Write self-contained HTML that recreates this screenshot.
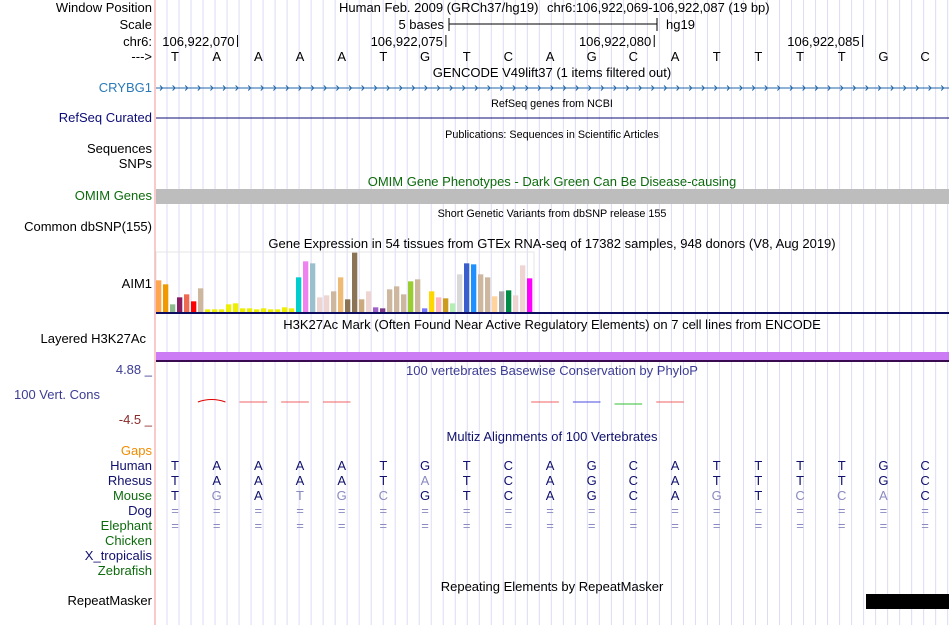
<!DOCTYPE html>
<html><head><meta charset="utf-8"><style>
html,body{margin:0;padding:0;background:#fff}
svg{display:block;font-family:"Liberation Sans",sans-serif}
</style></head><body>
<svg id="s" width="950" height="625" viewBox="0 0 950 625" xmlns="http://www.w3.org/2000/svg">
<g id="grid"></g>
<line x1="155" y1="0" x2="155" y2="625" stroke="#f4a6a6" stroke-width="1.2"/>
<g font-size="13" text-anchor="end">
<text x="152" y="12">Window Position</text>
<text x="152" y="29">Scale</text>
<text x="152" y="46">chr6:</text>
<text x="152" y="61">---&gt;</text>
<text x="152" y="92" fill="#2a7ab8">CRYBG1</text>
<text x="152" y="122" fill="#0c0c78">RefSeq Curated</text>
<text x="152" y="153">Sequences</text>
<text x="152" y="168">SNPs</text>
<text x="152" y="200" fill="#0d6b0d">OMIM Genes</text>
<text x="152" y="231">Common dbSNP(155)</text>
<text x="152" y="288">AIM1</text>
<text x="146" y="343">Layered H3K27Ac</text>
<text x="152" y="374" fill="#3c3c94">4.88 _</text>
<text x="100" y="399" fill="#3c3c94">100 Vert. Cons</text>
<text x="152" y="424" fill="#8b2a2a">-4.5 _</text>
<text x="152" y="455" fill="#f08c00">Gaps</text>
<text x="152" y="470" fill="#10106e">Human</text>
<text x="152" y="485" fill="#10106e">Rhesus</text>
<text x="152" y="500" fill="#0d6b0d">Mouse</text>
<text x="152" y="515" fill="#10106e">Dog</text>
<text x="152" y="530" fill="#0d6b0d">Elephant</text>
<text x="152" y="545" fill="#0d6b0d">Chicken</text>
<text x="152" y="560" fill="#10106e">X_tropicalis</text>
<text x="152" y="575" fill="#0d6b0d">Zebrafish</text>
<text x="152" y="605">RepeatMasker</text>
</g>
<g font-size="13">
<text x="339" y="12">Human Feb. 2009 (GRCh37/hg19)</text>
<text x="547" y="12">chr6:106,922,069-106,922,087 (19 bp)</text>
<text x="444" y="29" text-anchor="end">5 bases</text>
<line x1="449" y1="24" x2="657" y2="24" stroke="#000"/>
<line x1="449" y1="18" x2="449" y2="31" stroke="#000"/>
<line x1="657" y1="18" x2="657" y2="31" stroke="#000"/>
<text x="666" y="29">hg19</text>
<g id="ticks"></g>
<g id="bases"></g>
</g>
<g text-anchor="middle" font-size="13">
<text x="552" y="77">GENCODE V49lift37 (1 items filtered out)</text>
<text x="552" y="107" font-size="10.8">RefSeq genes from NCBI</text>
<text x="552" y="138" font-size="10.8">Publications: Sequences in Scientific Articles</text>
<text x="552" y="186" fill="#0d6b0d">OMIM Gene Phenotypes - Dark Green Can Be Disease-causing</text>
<text x="552" y="217" font-size="10.8">Short Genetic Variants from dbSNP release 155</text>
<text x="552" y="248">Gene Expression in 54 tissues from GTEx RNA-seq of 17382 samples, 948 donors (V8, Aug 2019)</text>
<text x="552" y="329">H3K27Ac Mark (Often Found Near Active Regulatory Elements) on 7 cell lines from ENCODE</text>
<text x="552" y="375" fill="#3c3c94">100 vertebrates Basewise Conservation by PhyloP</text>
<text x="552" y="441" fill="#10106e">Multiz Alignments of 100 Vertebrates</text>
<text x="552" y="591">Repeating Elements by RepeatMasker</text>
</g>
<line x1="156" y1="88" x2="949" y2="88" stroke="#2065a8"/>
<g id="chev" stroke="#2065a8" fill="none"></g>
<line x1="156" y1="118" x2="949" y2="118" stroke="#0c0c78"/>
<rect x="156" y="189" width="793" height="15" fill="#bdbdbd"/>
<rect x="156" y="252" width="378" height="61" fill="none" stroke="#e4e4e4"/>
<g id="bars"></g>
<rect x="156" y="312" width="793" height="2" fill="#0c0c60"/>
<rect x="156" y="352" width="793" height="8" fill="#cc7cf4"/>
<rect x="156" y="360" width="793" height="2" fill="#3a0a50"/>
<g id="cons" fill="none" stroke-width="1"></g>
<g id="aln" font-size="13" text-anchor="middle"></g>
<rect x="866" y="594" width="83" height="15" fill="#000"/>
</svg>
<script>
const gtexValues=[95,83,23,44,53,32,71,8,8,8,23,26,11,11,8,11,8,8,14,11,104,152,146,44,50,62,104,38,178,38,62,14,11,68,77,53,92,98,11,62,44,41,26,113,146,143,113,104,47,62,65,50,140,101];
const gtexColors=["#FFA54F","#EE9A00","#8FBC8F","#8B1C62","#EE6A50","#FF0000","#CDB79E","#EEEE00","#EEEE00","#EEEE00","#EEEE00","#EEEE00","#EEEE00","#EEEE00","#EEEE00","#EEEE00","#EEEE00","#EEEE00","#EEEE00","#EEEE00","#00CDCD","#EE82EE","#9AC0CD","#EED5D2","#EED5D2","#CDB79E","#EEBB77","#8B7355","#8B7355","#CDAA7D","#EED5D2","#9F5FC8","#7A378B","#CDB79E","#CDB79E","#CDB79E","#9ACD32","#CDB79E","#7777FF","#FFD700","#FFB6C1","#CD9B1D","#B4EEB4","#D9D9D9","#3A5FCD","#1E90FF","#CDB79E","#CDB79E","#FFD39B","#A6A6A6","#008B45","#EED5D2","#EED5D2","#FF00FF"];
const human="TAAAATGTCAGCATTTTGC".split("");
const rhesus="TAAAATATCAGCATTTTGC".split("");
const mouse="TGATGCGTCAGCAGTCCAC".split("");
const tickLabels=["106,922,070","106,922,075","106,922,080","106,922,085"];
const tickBases=[1.5,6.5,11.5,16.5];
const consSegments=[[1,"#e00000",1],[2,"#f06060",0],[3,"#f06060",0],[4,"#f06060",0],[9,"#f06060",0],[10,"#4a4ae0",0],[11,"#30c030",0],[12,"#f06060",0]];
const NS="http://www.w3.org/2000/svg";
function mk(t,a,p){const e=document.createElementNS(NS,t);for(const k in a)e.setAttribute(k,a[k]);(p||document.getElementById("s")).appendChild(e);return e;}
const bx=i=>175+41.67*i;
const barX=i=>156+i*7;
const barH=v=>v/3;
const grid=document.getElementById("grid");
for(let k=1;k<67;k++){const x=155+12.01*k;
const l=mk("line",{x1:x,y1:0,x2:x,y2:625,stroke:"#dcdcf4","stroke-width":1},grid);

}
const ticks=document.getElementById("ticks");
tickLabels.forEach((lab,i)=>{const x=bx(0)-20.8+41.67*(tickBases[i]+0.5);
const t=mk("text",{x:x-3,y:46,"text-anchor":"end"},ticks);t.textContent=lab;


const l=mk("line",{x1:x,y1:35,x2:x,y2:47,stroke:"#000"},ticks);

});
const bases=document.getElementById("bases");
human.forEach((b,i)=>{const t=mk("text",{x:bx(i),y:61,"text-anchor":"middle"},bases);t.textContent=b;

});
const chev=document.getElementById("chev");
for(let x=160;x<948;x+=12.6){const p=mk("path",{d:`M${x} 85.5 L${x+2.5} 88 L${x} 90.5`},chev);

}
const bars=document.getElementById("bars");
gtexValues.forEach((v,i)=>{const h=barH(v);
const r=mk("rect",{x:barX(i),y:312-h,width:5.3,height:h,fill:gtexColors[i]},bars);

});
const cons=document.getElementById("cons");
consSegments.forEach(([i,c,bump])=>{const x0=bx(i)-20.8+2,x1=bx(i)+20.8-12;
const y=c==="#30c030"?404:402;
const d=bump?`M${x0} ${y} Q${(x0+x1)/2} ${y-5} ${x1} ${y}`:`M${x0} ${y} L${x1} ${y}`;
const p=mk("path",{d:d,stroke:c},cons);

});
const aln=document.getElementById("aln");
const rows=[[human,470,"human"],[rhesus,485,"rhesus"],[mouse,500,"mouse"]];
rows.forEach(([seq,y,n])=>seq.forEach((b,i)=>{const t=mk("text",{x:bx(i),y:y,fill:(n!=="human"&&b!==human[i])?"#8a8ac0":"#10106e"},aln);t.textContent=b;

}));
[515,530].forEach(y=>human.forEach((b,i)=>{const t=mk("text",{x:bx(i),y:y,fill:"#8a8ac0"},aln);t.textContent="=";

}));
</script>
</body></html>
